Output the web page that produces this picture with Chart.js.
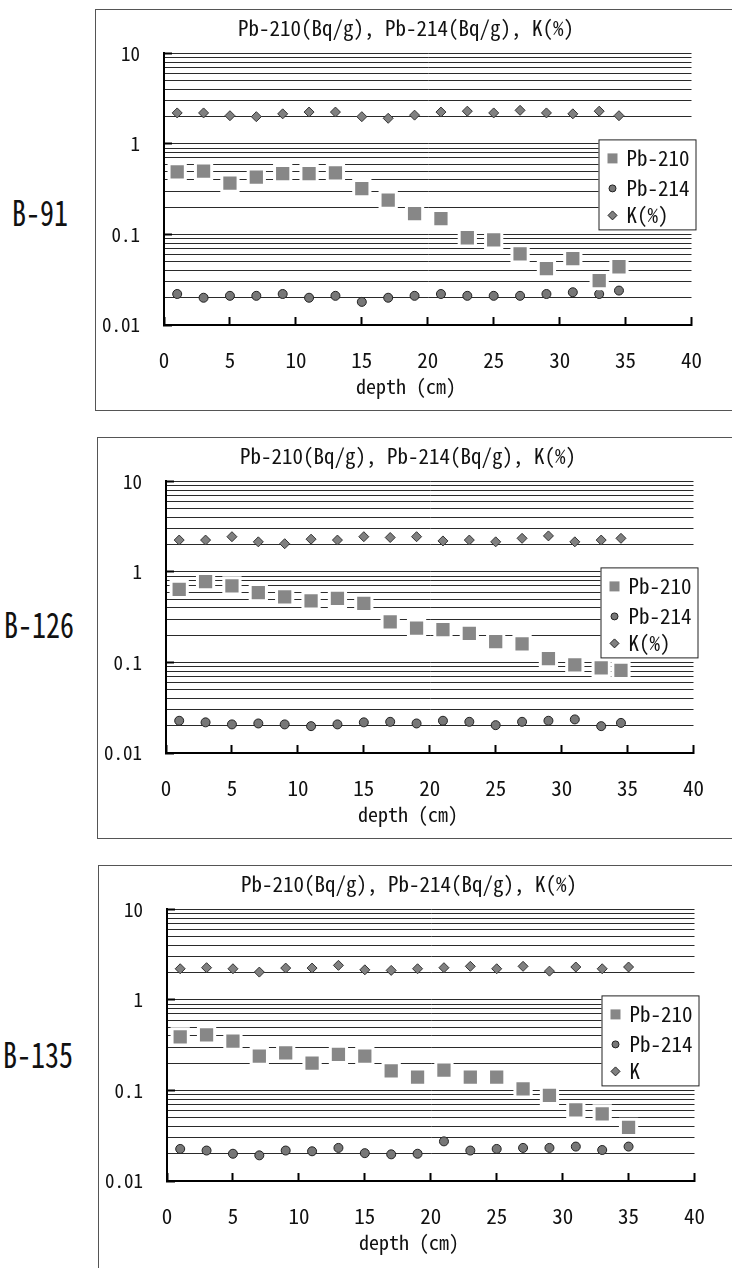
<!DOCTYPE html>
<html>
<head>
<meta charset="utf-8">
<script src="https://cdn.jsdelivr.net/npm/chart.js@4.4.1/dist/chart.umd.min.js"></script>
<style>
  body { margin: 0; background: #fff; width: 732px; height: 1268px; overflow: hidden; position: relative;
         font-family: 'Noto Sans Mono CJK JP', 'Noto Sans CJK JP', monospace; color: #111; }
  .frame { position: absolute; border: 1px solid #555; }
  .frame canvas { position: absolute; left: 0; top: 0; }
  .core { position: absolute; font-size: 35px; line-height: 35px; transform: scaleX(.8); transform-origin: left center; }
</style>
</head>
<body>
<div class="core" style="left:12px;top:193px">B-91</div>
<div class="core" style="left:4px;top:605px">B-126</div>
<div class="core" style="left:3px;top:1035px">B-135</div>

<div class="frame" style="left:95px;top:9px;width:700px;height:400px"><canvas id="c1" width="636" height="402"></canvas></div>
<div class="frame" style="left:97px;top:437px;width:700px;height:400px"><canvas id="c2" width="636" height="402"></canvas></div>
<div class="frame" style="left:98px;top:865px;width:700px;height:420px"><canvas id="c3" width="636" height="402"></canvas></div>

<script>
const FONT = "'Noto Sans Mono CJK JP', 'Noto Sans CJK JP', monospace";
const chartTitle = 'Pb-210(Bq/g), Pb-214(Bq/g), K(%)';
const xTitle = 'depth (cm)';
const yDecades = [0.01, 0.1, 1, 10];
const yTickLabels = ['0.01', '0.1', '1', '10'];

// core B-91
const depthB91 = [1, 3, 5, 7, 9, 11, 13, 15, 17, 19, 21, 23, 25, 27, 29, 31, 33, 34.5];
const pb210B91 = [0.49, 0.50, 0.37, 0.43, 0.47, 0.47, 0.48, 0.32, 0.24, 0.17, 0.15, 0.092, 0.087, 0.061, 0.042, 0.054, 0.031, 0.044];
const pb214B91 = [0.022, 0.020, 0.021, 0.021, 0.022, 0.020, 0.021, 0.018, 0.020, 0.021, 0.022, 0.021, 0.021, 0.021, 0.022, 0.023, 0.022, 0.024];
const kB91 = [2.2, 2.2, 2.05, 2.0, 2.15, 2.25, 2.25, 2.0, 1.92, 2.08, 2.25, 2.3, 2.2, 2.35, 2.2, 2.15, 2.3, 2.05];
const legendB91 = ['Pb-210', 'Pb-214', 'K(%)'];

// core B-126
const depthB126 = [1, 3, 5, 7, 9, 11, 13, 15, 17, 19, 21, 23, 25, 27, 29, 31, 33, 34.5];
const pb210B126 = [0.64, 0.78, 0.70, 0.59, 0.53, 0.48, 0.51, 0.45, 0.28, 0.24, 0.23, 0.21, 0.17, 0.16, 0.11, 0.094, 0.087, 0.082];
const pb214B126 = [0.0227, 0.0218, 0.0207, 0.0212, 0.0207, 0.0198, 0.0207, 0.0218, 0.0221, 0.0212, 0.0227, 0.0221, 0.0203, 0.0221, 0.0227, 0.0235, 0.0198, 0.0215];
const kB126 = [2.25, 2.25, 2.45, 2.15, 2.05, 2.3, 2.25, 2.45, 2.4, 2.45, 2.2, 2.25, 2.15, 2.35, 2.5, 2.15, 2.25, 2.35];
const legendB126 = ['Pb-210', 'Pb-214', 'K(%)'];

// core B-135
const depthB135 = [1, 3, 5, 7, 9, 11, 13, 15, 17, 19, 21, 23, 25, 27, 29, 31, 33, 35];
const pb210B135 = [0.39, 0.41, 0.35, 0.24, 0.26, 0.20, 0.25, 0.24, 0.165, 0.14, 0.168, 0.14, 0.14, 0.104, 0.088, 0.061, 0.055, 0.039];
const pb214B135 = [0.0226, 0.0217, 0.020, 0.0192, 0.0217, 0.0213, 0.0232, 0.0203, 0.0197, 0.020, 0.0274, 0.0217, 0.0226, 0.0232, 0.0232, 0.024, 0.022, 0.024];
const kB135 = [2.21, 2.27, 2.21, 2.03, 2.25, 2.25, 2.41, 2.15, 2.12, 2.21, 2.27, 2.35, 2.21, 2.35, 2.08, 2.31, 2.21, 2.31];
const legendB135 = ['Pb-210', 'Pb-214', 'K'];

// gridlines at 1..9 of every decade
const yGridValues = [];
yDecades.slice(0, -1).forEach(d => {
    for (let k = 1; k < 10; k++) yGridValues.push(Number((k * d).toPrecision(3)));
});
yGridValues.push(10);

const markerStyles = [
    { pointStyle: 'rect', pointRadius: 11.5, backgroundColor: '#878787', borderColor: '#fff', borderWidth: 3 },
    { pointStyle: 'circle', pointRadius: 4.5, backgroundColor: '#777', borderColor: '#222', borderWidth: 1 },
    { pointStyle: 'rectRot', pointRadius: 5, backgroundColor: '#808080', borderColor: '#333', borderWidth: 1 }
];

// legend box drawn inside the plot, over the gridlines
const boxLegend = {
    id: 'boxLegend',
    afterDraw(chart, args, opts) {
        const { ctx, chartArea } = chart;
        const left = chartArea.right - 93, top = chartArea.top + 86;
        const rows = [19, 49, 76];
        ctx.save();
        ctx.fillStyle = '#fff';
        ctx.fillRect(left, top, 97, 90);
        ctx.strokeStyle = '#222';
        ctx.lineWidth = 1;
        ctx.strokeRect(left + 0.5, top + 0.5, 97, 90);
        ctx.font = '21px ' + FONT;
        ctx.textBaseline = 'middle';
        opts.labels.forEach((label, i) => {
            const x = left + 14, y = top + rows[i];
            ctx.fillStyle = markerStyles[i].backgroundColor;
            ctx.strokeStyle = '#222';
            ctx.beginPath();
            if (i === 0) {
                ctx.rect(x - 5, y - 5, 10, 10);
                ctx.fill();
            } else if (i === 1) {
                ctx.arc(x, y, 3.5, 0, Math.PI * 2);
                ctx.fill();
                ctx.stroke();
            } else {
                ctx.moveTo(x, y - 4.5); ctx.lineTo(x + 4.5, y); ctx.lineTo(x, y + 4.5); ctx.lineTo(x - 4.5, y);
                ctx.closePath();
                ctx.fill();
                ctx.stroke();
            }
            ctx.fillStyle = '#111';
            ctx.fillText(label, left + 28, y);
        });
        ctx.restore();
    }
};

function makeChart(id, depth, pb210, pb214, k, legendLabels) {
    const series = [pb210, pb214, k];
    return new Chart(document.getElementById(id), {
        type: 'scatter',
        data: {
            datasets: series.map((vals, i) => Object.assign({
                label: legendLabels[i],
                data: depth.map((x, j) => ({ x: x, y: vals[j] })),
                pointHoverRadius: markerStyles[i].pointRadius
            }, markerStyles[i]))
        },
        options: {
            responsive: false,
            animation: false,
            layout: { padding: { left: 0, right: 16, top: 0, bottom: 0 } },
            plugins: {
                legend: { display: false },
                tooltip: { enabled: false },
                title: {
                    display: true, text: chartTitle, color: '#111',
                    font: { family: FONT, size: 21, weight: 'normal' },
                    padding: { top: 3, bottom: 13 }
                },
                subtitle: {
                    display: true, position: 'bottom', text: xTitle, color: '#111',
                    font: { family: FONT, size: 20, weight: 'normal' },
                    padding: { top: 4, bottom: 14 }
                },
                boxLegend: { labels: legendLabels }
            },
            scales: {
                x: {
                    type: 'linear', min: 0, max: 40,
                    ticks: { stepSize: 5, padding: 30, color: '#111', font: { family: FONT, size: 21 } },
                    grid: { drawOnChartArea: false, tickLength: -8, tickWidth: 2, tickColor: '#000' },
                    border: { color: '#000', width: 2 },
                    afterFit: s => { s.height = 45; }
                },
                y: {
                    type: 'logarithmic', min: 0.01, max: 10,
                    afterBuildTicks: s => {
                        s.ticks = yGridValues.map(v => ({ value: v, major: yDecades.includes(v) }));
                    },
                    ticks: {
                        autoSkip: false, padding: 32, color: '#111',
                        font: { family: FONT, size: 19 },
                        callback: v => {
                            const i = yDecades.indexOf(v);
                            return i < 0 ? '' : yTickLabels[i];
                        }
                    },
                    grid: {
                        color: '#2a2a2a', lineWidth: 1, tickLength: -8, tickWidth: 2,
                        tickColor: c => (c.tick && c.tick.major ? '#000' : 'rgba(0,0,0,0)')
                    },
                    border: { color: '#000', width: 2 },
                    afterFit: s => { s.width = 68; }
                }
            }
        },
        plugins: [boxLegend]
    });
}

makeChart('c1', depthB91, pb210B91, pb214B91, kB91, legendB91);
makeChart('c2', depthB126, pb210B126, pb214B126, kB126, legendB126);
makeChart('c3', depthB135, pb210B135, pb214B135, kB135, legendB135);
</script>
</body>
</html>
